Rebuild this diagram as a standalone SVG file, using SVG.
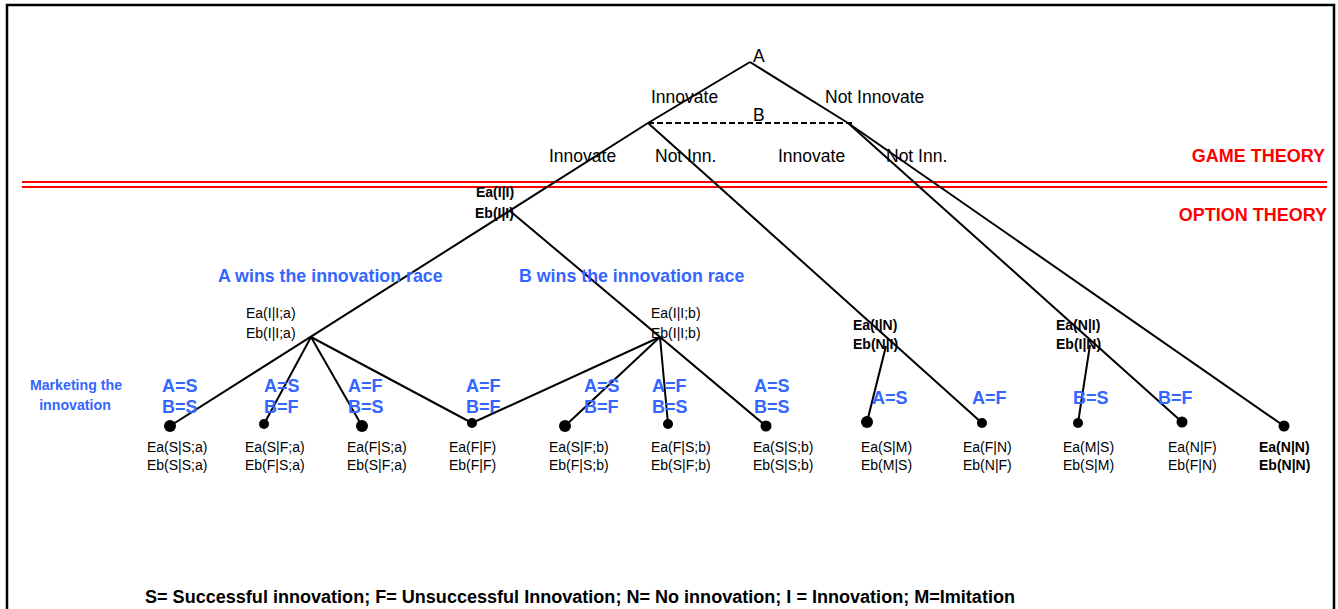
<svg xmlns="http://www.w3.org/2000/svg" width="1338" height="609" viewBox="0 0 1338 609">
<style>
.t{font-family:"Liberation Sans",Arial,sans-serif;fill:#000}
.lab{font-size:17.5px}
.leaf{font-size:14px}
.bold{font-weight:bold}
.blue{fill:#3366ff;font-weight:bold}
.red{fill:#ff0000;font-weight:bold;font-size:18px}
.ln{stroke:#000;stroke-width:2;fill:none}
.dot{fill:#000}
</style>
<rect x="7" y="5" width="1327" height="620" fill="#fff" stroke="#000" stroke-width="2.5"/>
<g id="separator">
<line x1="22" y1="182" x2="1327" y2="182" stroke="#ff0000" stroke-width="2"/>
<line x1="22" y1="187" x2="1327" y2="187" stroke="#ff0000" stroke-width="2"/>
<text class="t red" x="1325" y="162" text-anchor="end">GAME THEORY</text>
<text class="t red" x="1327" y="221" text-anchor="end">OPTION THEORY</text>
</g>
<g id="connectors">
<line class="ln" x1="750" y1="62" x2="648" y2="123"/>
<line class="ln" x1="750" y1="62" x2="848" y2="123"/>
<line class="ln" x1="648" y1="123" x2="852" y2="123" stroke-dasharray="6,3"/>
<line class="ln" x1="648" y1="123" x2="170" y2="426"/>
<line class="ln" x1="510" y1="211" x2="766" y2="426"/>
<line class="ln" x1="311" y1="337" x2="264" y2="424"/>
<line class="ln" x1="311" y1="337" x2="362" y2="426"/>
<line class="ln" x1="311" y1="337" x2="472" y2="423"/>
<line class="ln" x1="660" y1="337" x2="472" y2="423"/>
<line class="ln" x1="660" y1="337" x2="565" y2="426"/>
<line class="ln" x1="660" y1="337" x2="668" y2="424"/>
<line class="ln" x1="648" y1="123" x2="982" y2="423"/>
<line class="ln" x1="886" y1="346" x2="867" y2="422"/>
<line class="ln" x1="848" y1="123" x2="1182" y2="422"/>
<line class="ln" x1="1090" y1="345" x2="1078" y2="423"/>
<line class="ln" x1="848" y1="123" x2="1284" y2="426"/>
</g>
<g id="nodeA">
<text class="t lab" x="753" y="62">A</text>
<text class="t lab" x="651" y="103">Innovate</text>
<text class="t lab" x="825" y="103">Not Innovate</text>
</g>
<g id="nodeB">
<text class="t lab" x="753" y="121">B</text>
<text class="t lab" x="549" y="162">Innovate</text>
<text class="t lab" x="655" y="162">Not Inn.</text>
<text class="t lab" x="778" y="162">Innovate</text>
<text class="t lab" x="886" y="162">Not Inn.</text>
</g>
<g id="nodeII">
<text class="t leaf bold" x="476" y="197">Ea(I|I)</text>
<text class="t leaf bold" x="475" y="218">Eb(I|I)</text>
</g>
<g id="nodeIIa">
<text class="t blue" x="218" y="282" font-size="17.8">A wins the innovation race</text>
<text class="t leaf" x="246" y="318">Ea(I|I;a)</text>
<text class="t leaf" x="246" y="338">Eb(I|I;a)</text>
</g>
<g id="nodeIIb">
<text class="t blue" x="519" y="282" font-size="17.8">B wins the innovation race</text>
<text class="t leaf" x="651" y="318">Ea(I|I;b)</text>
<text class="t leaf" x="651" y="338">Eb(I|I;b)</text>
</g>
<g id="nodeIN">
<text class="t leaf bold" x="853" y="330">Ea(I|N)</text>
<text class="t leaf bold" x="853" y="349">Eb(N|I)</text>
</g>
<g id="nodeNI">
<text class="t leaf bold" x="1056" y="330">Ea(N|I)</text>
<text class="t leaf bold" x="1056" y="349">Eb(I|N)</text>
</g>
<g id="marketing">
<text class="t blue" x="76" y="390" font-size="14.2" text-anchor="middle">Marketing the</text>
<text class="t blue" x="75" y="410" font-size="14.2" text-anchor="middle">innovation</text>
</g>
<g id="leaf1">
<text class="t blue" x="162" y="392" font-size="18">A=S</text>
<text class="t blue" x="162" y="413" font-size="18">B=S</text>
<circle class="dot" cx="170" cy="426" r="6"/>
<text class="t leaf" x="147" y="452">Ea(S|S;a)</text>
<text class="t leaf" x="147" y="470">Eb(S|S;a)</text>
</g>
<g id="leaf2">
<text class="t blue" x="264" y="392" font-size="18">A=S</text>
<text class="t blue" x="264" y="413" font-size="18">B=F</text>
<circle class="dot" cx="264" cy="424" r="5"/>
<text class="t leaf" x="245" y="452">Ea(S|F;a)</text>
<text class="t leaf" x="245" y="470">Eb(F|S;a)</text>
</g>
<g id="leaf3">
<text class="t blue" x="348" y="392" font-size="18">A=F</text>
<text class="t blue" x="348" y="413" font-size="18">B=S</text>
<circle class="dot" cx="362" cy="426" r="6"/>
<text class="t leaf" x="347" y="452">Ea(F|S;a)</text>
<text class="t leaf" x="347" y="470">Eb(S|F;a)</text>
</g>
<g id="leaf4">
<text class="t blue" x="466" y="392" font-size="18">A=F</text>
<text class="t blue" x="466" y="413" font-size="18">B=F</text>
<circle class="dot" cx="472" cy="423" r="5"/>
<text class="t leaf" x="449" y="452">Ea(F|F)</text>
<text class="t leaf" x="449" y="470">Eb(F|F)</text>
</g>
<g id="leaf5">
<text class="t blue" x="584" y="392" font-size="18">A=S</text>
<text class="t blue" x="584" y="413" font-size="18">B=F</text>
<circle class="dot" cx="565" cy="426" r="6"/>
<text class="t leaf" x="549" y="452">Ea(S|F;b)</text>
<text class="t leaf" x="549" y="470">Eb(F|S;b)</text>
</g>
<g id="leaf6">
<text class="t blue" x="652" y="392" font-size="18">A=F</text>
<text class="t blue" x="652" y="413" font-size="18">B=S</text>
<circle class="dot" cx="668" cy="424" r="5"/>
<text class="t leaf" x="651" y="452">Ea(F|S;b)</text>
<text class="t leaf" x="651" y="470">Eb(S|F;b)</text>
</g>
<g id="leaf7">
<text class="t blue" x="754" y="392" font-size="18">A=S</text>
<text class="t blue" x="754" y="413" font-size="18">B=S</text>
<circle class="dot" cx="766" cy="426" r="5.5"/>
<text class="t leaf" x="753" y="452">Ea(S|S;b)</text>
<text class="t leaf" x="753" y="470">Eb(S|S;b)</text>
</g>
<g id="leaf8">
<text class="t blue" x="872" y="404" font-size="18">A=S</text>
<circle class="dot" cx="867" cy="422" r="6"/>
<text class="t leaf" x="861" y="452">Ea(S|M)</text>
<text class="t leaf" x="861" y="470">Eb(M|S)</text>
</g>
<g id="leaf9">
<text class="t blue" x="972" y="404" font-size="18">A=F</text>
<circle class="dot" cx="982" cy="423" r="5"/>
<text class="t leaf" x="963" y="452">Ea(F|N)</text>
<text class="t leaf" x="963" y="470">Eb(N|F)</text>
</g>
<g id="leaf10">
<text class="t blue" x="1073" y="404" font-size="18">B=S</text>
<circle class="dot" cx="1078" cy="423" r="5"/>
<text class="t leaf" x="1063" y="452">Ea(M|S)</text>
<text class="t leaf" x="1063" y="470">Eb(S|M)</text>
</g>
<g id="leaf11">
<text class="t blue" x="1158" y="404" font-size="18">B=F</text>
<circle class="dot" cx="1182" cy="422" r="5.5"/>
<text class="t leaf" x="1168" y="452">Ea(N|F)</text>
<text class="t leaf" x="1168" y="470">Eb(F|N)</text>
</g>
<g id="leaf12">
<circle class="dot" cx="1284" cy="426" r="5.5"/>
<text class="t leaf bold" x="1259" y="452">Ea(N|N)</text>
<text class="t leaf bold" x="1259" y="470">Eb(N|N)</text>
</g>
<g id="legend">
<text class="t bold" x="145" y="603" font-size="18" textLength="870" lengthAdjust="spacingAndGlyphs">S= Successful innovation; F= Unsuccessful Innovation; N= No innovation; I = Innovation; M=Imitation</text>
</g>
</svg>
